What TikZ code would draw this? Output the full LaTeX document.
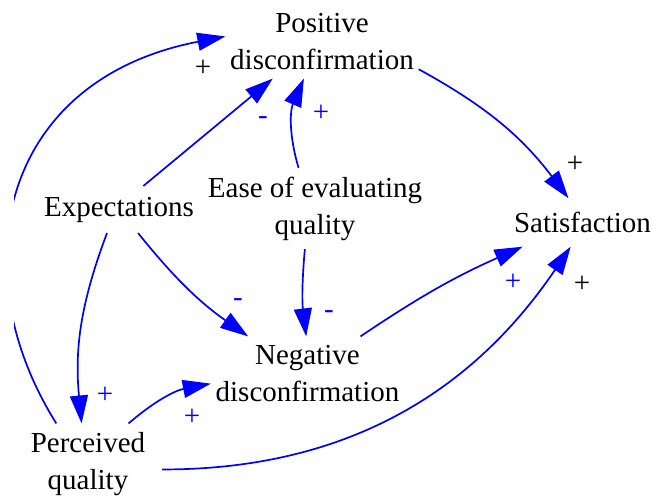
\documentclass[tikz,border=0pt]{standalone}
\usepackage{fontspec}
\setmainfont{Liberation Serif}
\usetikzlibrary{arrows.meta}

\begin{document}
\begin{tikzpicture}[x=1pt,y=-1pt,->,>={Triangle[length=28pt,width=18pt]},line width=1.7pt]
    \tikzstyle{var}=[align=center,inner xsep=4pt,inner ysep=8pt,font=\fontsize{29}{37}\selectfont]
    \tikzstyle{sign}=[inner sep=0pt,text=blue,font=\fontsize{29}{37}\selectfont]
    \tikzstyle{every edge}=[draw=blue]
    \useasboundingbox (0,0) rectangle (653,500);
    \node[var]                 (pos)  at (322,41.5)    {Positive\\disconfirmation};
    \node[var]                 (ease) at (315,208.5)   {Ease of evaluating\\quality};
    \node[var,inner ysep=10pt] (exp)  at (119,209.5)   {Expectations};
    \node[var,inner ysep=13pt] (sat)  at (582.5,222.5) {Satisfaction};
    \node[var]                 (neg)  at (307.5,373.5) {Negative\\disconfirmation};
    \node[var]                 (perc) at (88,464)      {Perceived\\quality};
    % long loop on the left, cut at the frame
    \begin{scope}
        \clip (14,0) rectangle (653,500);
        \draw[blue] (perc.128) .. controls (-40,270) and (0,80) .. (pos.177);
    \end{scope}
    \path (exp.44)   edge                 (pos.217)
          (exp.-51)  edge [bend right=8]  (neg.148)
          (exp.243)  edge [bend right=13] (perc.99)
          (ease.112) edge [bend left=20]  (pos.244)
          (ease.256) edge [bend right=6]  (neg.92)
          (pos.-16)  edge [bend left=12]  (sat.120)
          (neg.35)   edge [bend left=5]   (sat.202)
          (perc.45)  edge [bend left=15]  (neg.186)
          (perc.-5)  edge [bend right=28,shorten <=12pt] (sat.244);
    % polarities
    \node[sign,text=black] (s1)  at (203,68)    {+};
    \node[sign]            (s2)  at (263,120.5) {-};
    \node[sign]            (s3)  at (321,113)   {+};
    \node[sign,text=black] (s4)  at (575,164)   {+};
    \node[sign]            (s5)  at (238,302.5) {-};
    \node[sign]            (s6)  at (329,314.5) {-};
    \node[sign]            (s7)  at (105,395)   {+};
    \node[sign]            (s8)  at (192,417)   {+};
    \node[sign]            (s9)  at (513,282)   {+};
    \node[sign,text=black] (s10) at (582,284)   {+};
\end{tikzpicture}
\end{document}
